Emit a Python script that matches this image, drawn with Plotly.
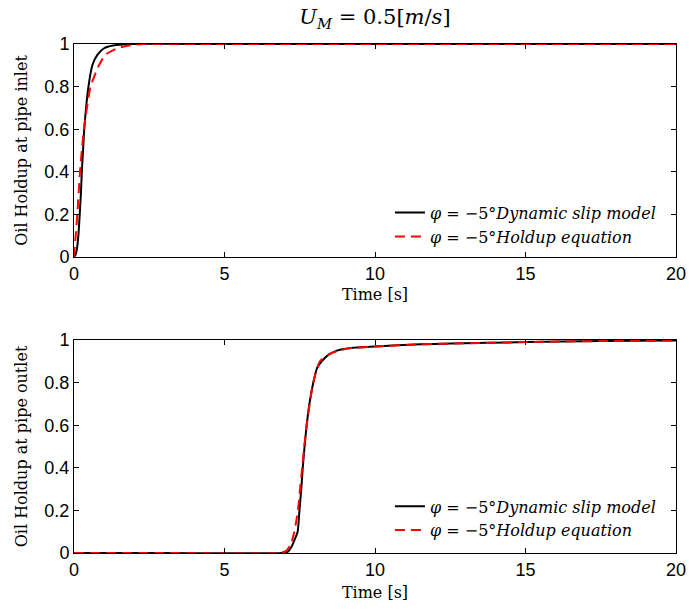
import plotly.graph_objects as go

# Oil holdup at the pipe inlet, mixture velocity 0.5 m/s, inclination -5 deg
t_in_slip = [0, 0.05, 0.1, 0.15, 0.19, 0.23, 0.26, 0.3, 0.34, 0.4, 0.48, 0.61,
             0.78, 1.0, 1.3, 1.9, 5, 10, 15, 20]
h_in_slip = [0, 0.01, 0.04, 0.11, 0.2, 0.3, 0.4, 0.5, 0.6, 0.7, 0.8, 0.9,
             0.95, 0.98, 0.993, 1.0, 1.0, 1.0, 1.0, 1.0]

t_in_eq = [0, 0.05, 0.11, 0.2, 0.26, 0.33, 0.43, 0.55, 0.83, 1.05, 1.44, 1.8,
           2.3, 5, 10, 15, 20]
h_in_eq = [0, 0.09, 0.2, 0.4, 0.5, 0.6, 0.7, 0.8, 0.9, 0.95, 0.98, 0.993,
           1.0, 1.0, 1.0, 1.0, 1.0]

# Oil holdup at the pipe outlet
t_out_slip = [0, 3, 6.9, 7.1, 7.23, 7.35, 7.43, 7.49, 7.55, 7.6, 7.66, 7.73,
              7.82, 7.95, 8.08, 8.23, 8.45, 8.73, 9.2, 10, 11.5, 12.5, 15,
              17.5, 20]
h_out_slip = [0, 0, 0, 0.005, 0.03, 0.07, 0.1, 0.2, 0.3, 0.4, 0.5, 0.6,
              0.7, 0.8, 0.87, 0.9, 0.93, 0.95, 0.962, 0.969, 0.98, 0.983,
              0.99, 0.995, 0.998]

t_out_eq = [0, 3, 6.8, 7.05, 7.2, 7.32, 7.44, 7.51, 7.58, 7.65, 7.73, 7.83,
            7.95, 8.17, 8.5, 8.8, 9.2, 10, 11.5, 12.5, 15, 17.5, 20]
h_out_eq = [0, 0, 0, 0.01, 0.04, 0.1, 0.2, 0.3, 0.4, 0.5, 0.6, 0.7,
            0.8, 0.9, 0.935, 0.95, 0.962, 0.969, 0.98, 0.983, 0.99, 0.995,
            0.998]

x_ticks = [0, 5, 10, 15, 20]
y_ticks = [0, 0.2, 0.4, 0.6, 0.8, 1]
y_tick_text = ["0", "0.2", "0.4", "0.6", "0.8", "1"]

name_slip = "<i>φ</i> = −5°<i>Dynamic slip model</i>"
name_eq = "<i>φ</i> = −5°<i>Holdup equation</i>"

SERIF = "DejaVu Serif"
SANS = "Liberation Sans"

fig = go.Figure()

def add_pair(t1, h1, t2, h2, xa, ya, leg):
    fig.add_trace(go.Scatter(x=t1, y=h1, mode="lines", name=name_slip,
                             line=dict(color="black", width=2, shape="spline", smoothing=0.6),
                             xaxis=xa, yaxis=ya, legend=leg))
    fig.add_trace(go.Scatter(x=t2, y=h2, mode="lines", name=name_eq,
                             line=dict(color="#ff0000", width=2, dash="10px,6px",
                                       shape="spline", smoothing=0.6),
                             xaxis=xa, yaxis=ya, legend=leg))

add_pair(t_in_slip, h_in_slip, t_in_eq, h_in_eq, "x", "y", "legend")
add_pair(t_out_slip, h_out_slip, t_out_eq, h_out_eq, "x2", "y2", "legend2")

axis_common = dict(showline=True, linecolor="black", linewidth=1, mirror="ticks",
                   ticks="inside", ticklen=5, tickcolor="black", showgrid=False,
                   zeroline=False, automargin=False,
                   tickfont=dict(family=SANS, size=18, color="black"))
title_font = dict(family=SERIF, size=16, color="black")

fig.update_layout(
    width=689, height=612,
    margin=dict(l=74, r=13, t=44, b=59),
    plot_bgcolor="white", paper_bgcolor="white",
    title=dict(text="<i>U</i><sub><i>M</i></sub> = 0.5[<i>m</i>/<i>s</i>]",
               x=0.5442, xanchor="center", y=0.972, yanchor="middle",
               font=dict(family=SERIF, size=21, color="black")),
    xaxis=dict(domain=[0, 1], anchor="y", range=[0, 20], tickvals=x_ticks,
               title=dict(text="Time [s]", standoff=6, font=title_font),
               **axis_common),
    yaxis=dict(domain=[0.5815, 1], anchor="x", range=[0, 1], tickvals=y_ticks,
               ticktext=y_tick_text,
               title=dict(text="Oil Holdup at pipe inlet", standoff=12, font=title_font),
               **axis_common),
    xaxis2=dict(domain=[0, 1], anchor="y2", range=[0, 20], tickvals=x_ticks,
                title=dict(text="Time [s]", standoff=8, font=title_font),
                **axis_common),
    yaxis2=dict(domain=[0, 0.4185], anchor="x2", range=[0, 1], tickvals=y_ticks,
                ticktext=y_tick_text,
                title=dict(text="Oil Holdup at pipe outlet", standoff=12, font=title_font),
                **axis_common),
    legend=dict(x=0.975, xanchor="right", y=0.702, yanchor="top",
                bgcolor="rgba(0,0,0,0)", tracegroupgap=0,
                font=dict(family=SERIF, size=16, color="black")),
    legend2=dict(x=0.975, xanchor="right", y=0.125, yanchor="top",
                 bgcolor="rgba(0,0,0,0)", tracegroupgap=0,
                 font=dict(family=SERIF, size=16, color="black")),
)

fig.write_html("out.html")
